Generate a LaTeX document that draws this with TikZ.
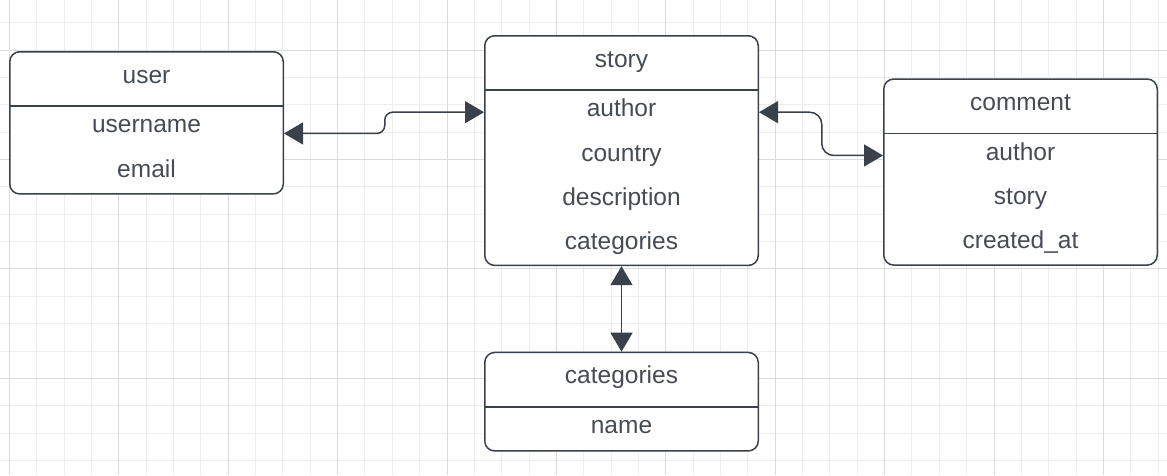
\documentclass[tikz,border=0pt]{standalone}
\usepackage{fontspec}
\setmainfont{Liberation Sans}
\usepackage{xcolor}
\usetikzlibrary{arrows.meta,positioning}
\definecolor{linec}{HTML}{3A414A}
\definecolor{textc}{HTML}{474C54}
\definecolor{minorc}{HTML}{EDEDED}
\definecolor{majorc}{HTML}{DBDBDB}

\begin{document}
\begin{tikzpicture}[x=1pt,y=-1pt,
  entity/.style={draw=linec,fill=white,line width=1.5pt,rounded corners=10pt,minimum width=273.5pt,anchor=north west,inner sep=0pt},
  head/.style={minimum width=273.5pt,minimum height=54.7pt,inner sep=0pt,anchor=north,text=textc,font=\fontsize{24.5}{29}\selectfont,text height=14pt,text depth=4.6pt},
  field/.style={head,minimum height=43.76pt},
  divider/.style={draw=linec,line width=1.5pt},
  rel/.style={draw=linec,line width=1.5pt,{Triangle[length=19pt,width=22pt]}-{Triangle[length=19pt,width=22pt]}},
  minorgrid/.style={draw=minorc,line width=0.8pt},
  majorgrid/.style={draw=majorc,line width=0.8pt}]
\useasboundingbox (0,0) rectangle (1167,475);
\fill[white] (0,0) rectangle (1167,475);
% grid
\foreach \k in {0,...,42} \draw[minorgrid] ({9.3+27.35*\k},0) -- ({9.3+27.35*\k},475);
\foreach \k in {0,...,16} \draw[minorgrid] (0,{22.7+27.35*\k}) -- (1167,{22.7+27.35*\k});
\foreach \k in {0,4,...,40} \draw[majorgrid] ({9.3+27.35*\k},0) -- ({9.3+27.35*\k},475);
\foreach \k in {1,5,9,13} \draw[majorgrid] (0,{22.7+27.35*\k}) -- (1167,{22.7+27.35*\k});
% user
\node[entity,minimum height=142.2pt] (user) at (9,51) {};
\node[head] (userhead) at (user.north) {user};
\draw[divider] (userhead.south west) -- (userhead.south east);
\node[field,below=0pt of userhead] (username) {username};
\node[field,below=0pt of username] (email) {email};
% story
\node[entity,minimum height=229.7pt] (story) at (484,35) {};
\node[head] (storyhead) at (story.north) {story};
\draw[divider] (storyhead.south west) -- (storyhead.south east);
\node[field,below=0pt of storyhead] (sauthor) {author};
\node[field,below=0pt of sauthor] (country) {country};
\node[field,below=0pt of country] (description) {description};
\node[field,below=0pt of description] (scategories) {categories};
% comment
\node[entity,minimum height=186pt] (comment) at (883,78.3) {};
\node[head] (commenthead) at (comment.north) {comment};
\draw[divider] (commenthead.south west) -- (commenthead.south east);
\node[field,below=0pt of commenthead] (cauthor) {author};
\node[field,below=0pt of cauthor] (cstory) {story};
\node[field,below=0pt of cstory] (created) {created\_at};
% categories
\node[entity,minimum height=98.5pt] (categories) at (484,351.7) {};
\node[head] (cathead) at (categories.north) {categories};
\draw[divider] (cathead.south west) -- (cathead.south east);
\node[field,below=0pt of cathead] (catname) {name};
% relations
\draw[rel,rounded corners=8pt] ([yshift=-10.6pt]user.east) -- ++(100.75,0) |- (story.west |- sauthor);
\draw[rel,rounded corners=12pt] (story.east |- sauthor) -- ++(62.75,0) |- (comment.west |- cauthor);
\draw[rel] (story.south) -- (categories.north);
\end{tikzpicture}
\end{document}
